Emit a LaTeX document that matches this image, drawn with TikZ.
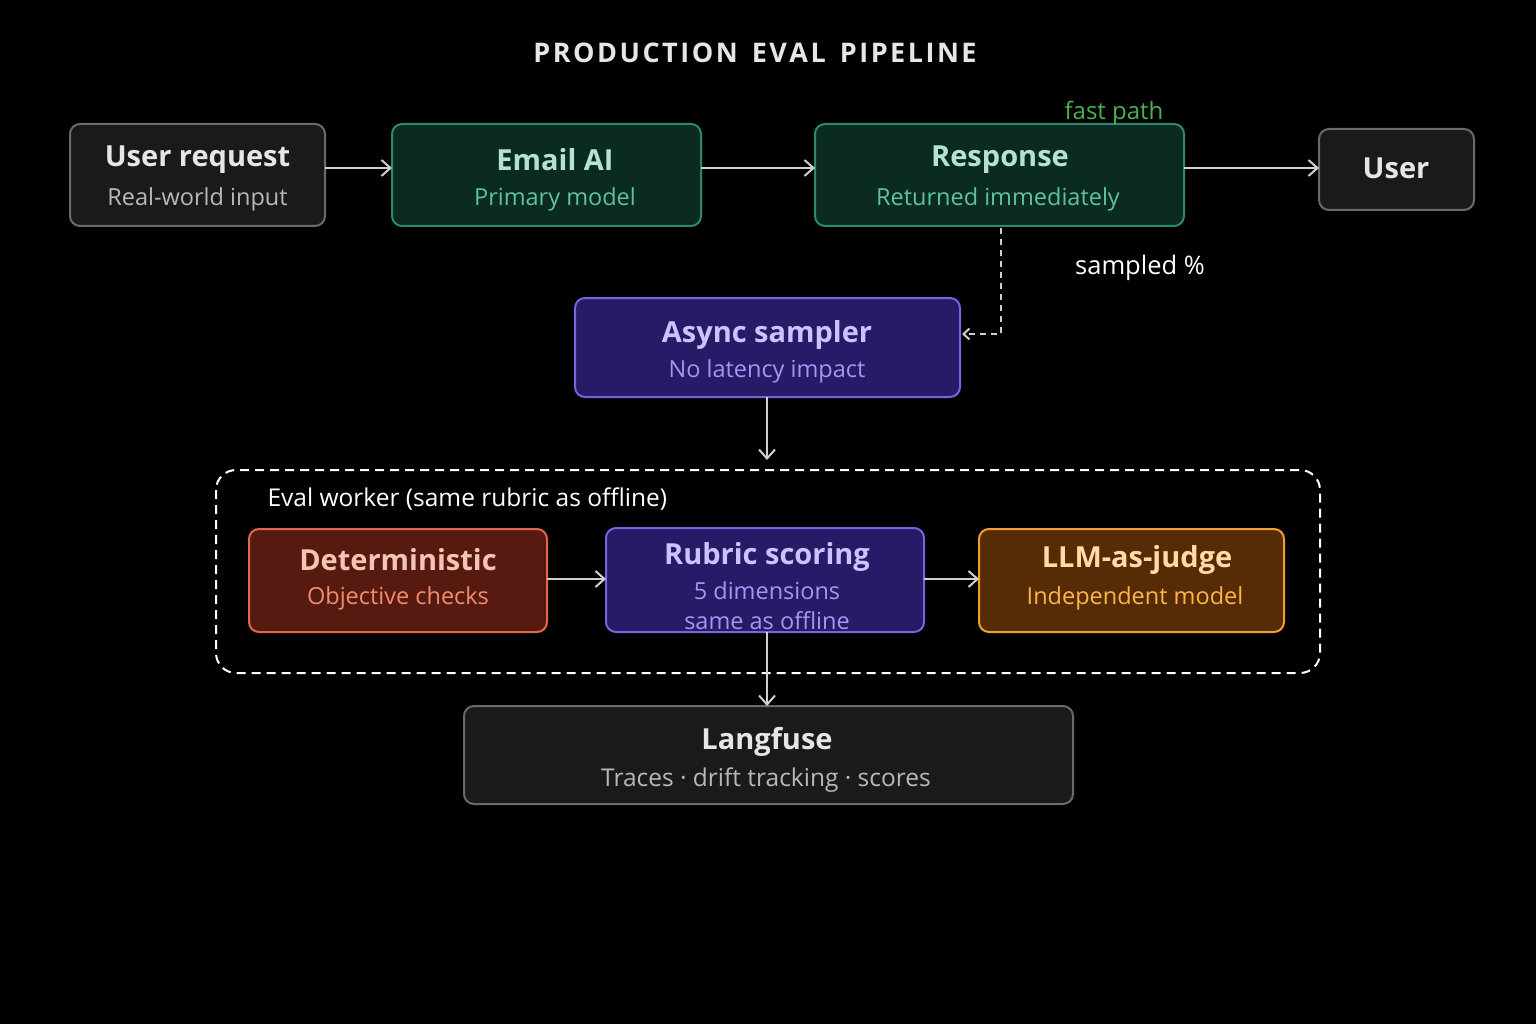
\documentclass[tikz,border=0pt]{standalone}
\usepackage{fontspec}
\setmainfont{Open Sans}
\usetikzlibrary{arrows.meta}
\definecolor{bg}{HTML}{000000}
\definecolor{grayfill}{HTML}{1A1A1A}
\definecolor{grayline}{HTML}{6A6A6A}
\definecolor{grayt}{HTML}{E6E6E6}
\definecolor{grays}{HTML}{B8B8B8}
\definecolor{grfill}{HTML}{0B2A22}
\definecolor{grline}{HTML}{2E8A6C}
\definecolor{grt}{HTML}{B5E3D1}
\definecolor{grs}{HTML}{5EC29C}
\definecolor{pufill}{HTML}{251B66}
\definecolor{puline}{HTML}{7864DC}
\definecolor{put}{HTML}{CBC2FF}
\definecolor{pus}{HTML}{A595F2}
\definecolor{refill}{HTML}{561A10}
\definecolor{reline}{HTML}{E2664A}
\definecolor{ret}{HTML}{F6C4B4}
\definecolor{res}{HTML}{F28C6C}
\definecolor{orfill}{HTML}{552C06}
\definecolor{orline}{HTML}{EFA030}
\definecolor{ort}{HTML}{FFDBA6}
\definecolor{ors}{HTML}{FFB444}
\definecolor{fastc}{HTML}{4CAF50}
\definecolor{arr}{HTML}{D0D0D0}
\begin{document}
\begin{tikzpicture}[x=1pt,y=-1pt,
  box/.style={rounded corners=10pt,line width=2pt},
  tt/.style={font=\fontsize{29}{32}\selectfont\bfseries},
  ss/.style={font=\fontsize{23.5}{26}\selectfont},
  conn/.style={draw=arr,line width=2pt,-{Straight Barb[length=9pt,width=16pt]}}]
\fill[bg] (0,0) rectangle (1536,1024);
\useasboundingbox (0,0) rectangle (1536,1024);
\node[text=grayt,font=\fontsize{27}{30}\selectfont\bfseries] (title) at (755,53) {P\kern2.5ptR\kern2.5ptO\kern2.5ptD\kern2.5ptU\kern2.5ptC\kern2.5ptT\kern2.5ptI\kern2.5ptO\kern2.5ptN\ \ E\kern2.5ptV\kern2.5ptA\kern2.5ptL\ \ P\kern2.5ptI\kern2.5ptP\kern2.5ptE\kern2.5ptL\kern2.5ptI\kern2.5ptN\kern2.5ptE};
% row 1
\draw[box,fill=grayfill,draw=grayline] (70,124) rectangle (325,226);
\node[tt,text=grayt] (urT) at (197.5,160) {User request};
\node[ss,text=grays] (urS) at (197.5,199) {Real-world input};
\draw[box,fill=grfill,draw=grline] (392,124) rectangle (701,226);
\node[tt,text=grt] (eaT) at (555,160) {Email AI};
\node[ss,text=grs] (eaS) at (555,199) {Primary model};
\draw[box,fill=grfill,draw=grline] (815,124) rectangle (1184,226);
\node[tt,text=grt] (reT) at (1000,160) {Response};
\node[ss,text=grs] (reS) at (998,199) {Returned immediately};
\draw[box,fill=grayfill,draw=grayline] (1319,129) rectangle (1474,210);
\node[tt,text=grayt] (uT) at (1396,168) {User};
\node[ss,text=fastc,font=\fontsize{24}{27}\selectfont] (fp) at (1114,113) {fast path};
\coordinate (a1s) at (325,168); \coordinate (a1e) at (392,168);
\coordinate (a2s) at (701,168); \coordinate (a2e) at (815,168);
\coordinate (a3s) at (1184,168); \coordinate (a3e) at (1319,168);
\draw[conn] (a1s) -- (a1e);
\draw[conn] (a2s) -- (a2e);
\draw[conn] (a3s) -- (a3e);
% async
\draw[box,fill=pufill,draw=puline] (575,298) rectangle (960,397);
\node[tt,text=put] (asT) at (767,335) {Async sampler};
\node[ss,text=pus] (asS) at (767,371) {No latency impact};
\node[text=white,font=\fontsize{25.5}{28}\selectfont] (samp) at (1140,268) {sampled \%};
\coordinate (d1) at (1001,228); \coordinate (d2) at (1001,334); \coordinate (d3) at (962,334);
\draw[conn,line width=2pt,dash pattern=on 6pt off 5pt,-{Straight Barb[length=6pt,width=11pt]}] (d1) -- (d2) -- (d3);
\coordinate (b1) at (767,397); \coordinate (b2) at (767,460);
\draw[conn] (b1) -- (b2);
% container
\draw[draw=white,line width=2pt,dash pattern=on 9pt off 6pt,rounded corners=20pt] (216,470) rectangle (1320,673);
\node[text=white,anchor=west,font=\fontsize{24.5}{27}\selectfont] (ew) at (264,499) {Eval worker (same rubric as offline)};
\draw[box,fill=refill,draw=reline] (249,529) rectangle (547,632);
\node[tt,text=ret] (deT) at (398,560) {Deterministic};
\node[ss,text=res] (deS) at (398,598) {Objective checks};
\draw[box,fill=pufill,draw=puline] (606,528) rectangle (924,632);
\node[tt,text=put] (ruT) at (767,557) {Rubric scoring};
\node[ss,text=pus] (ruS) at (767,591) {5 dimensions};
\node[ss,text=pus] (ruS2) at (767,621) {same as offline};
\draw[box,fill=orfill,draw=orline] (979,529) rectangle (1284,632);
\node[tt,text=ort] (llT) at (1137,560) {LLM-as-judge};
\node[ss,text=ors] (llS) at (1135,598) {Independent model};
\coordinate (c1s) at (547,579); \coordinate (c1e) at (606,579);
\coordinate (c2s) at (924,579); \coordinate (c2e) at (979,579);
\draw[conn] (c1s) -- (c1e);
\draw[conn] (c2s) -- (c2e);
% langfuse
\draw[box,fill=grayfill,draw=grayline] (464,706) rectangle (1073,804);
\node[tt,text=grayt] (lfT) at (767,742) {Langfuse};
\node[ss,text=grays,font=\fontsize{24.5}{27}\selectfont] (lfS) at (766,780) {Traces · drift tracking · scores};
\coordinate (e1) at (767,632); \coordinate (e2) at (767,706);
\draw[conn] (e1) -- (e2);
\end{tikzpicture}
\end{document}
